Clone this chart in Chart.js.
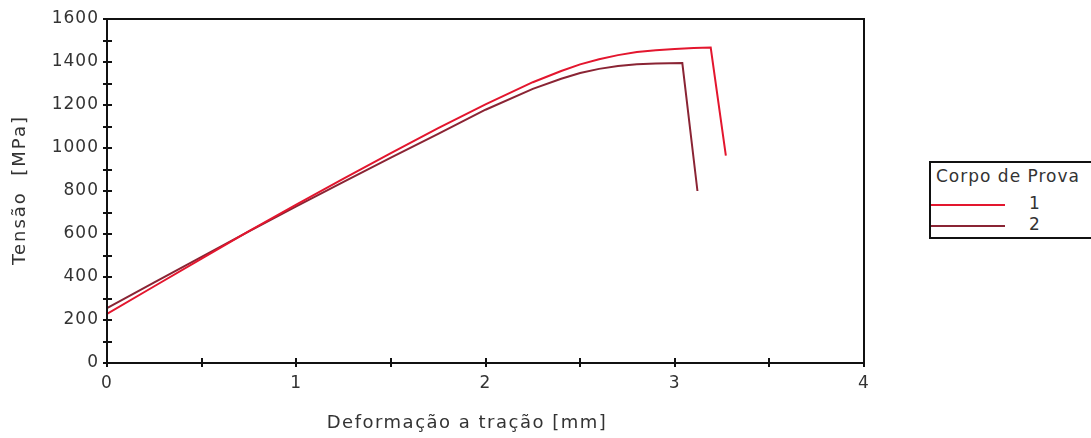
<!DOCTYPE html>
<html>
<head>
<meta charset="utf-8">
<script src="https://cdn.jsdelivr.net/npm/chart.js@4.4.1/dist/chart.umd.min.js"></script>
<style>
  html, body { margin: 0; padding: 0; background: #fff; overflow: hidden; }
  #wrap { position: relative; width: 1091px; height: 438px; }
  #legend { position: absolute; left: 929px; top: 161px; width: 190px; height: 74px;
    border: 2px solid #111; font-family: "DejaVu Sans", Verdana, sans-serif; color: #333; background: #fff; }
  #legend .title { position: absolute; left: 5px; top: 3px; font-size: 17px; letter-spacing: 1px; white-space: nowrap; }
  #legend .row { position: absolute; left: 0; height: 16px; width: 200px; }
  #legend .ln { position: absolute; left: 0; top: 7px; width: 74px; height: 2px; }
  #legend .lb { position: absolute; left: 98px; top: -4px; font-size: 17px; }
</style>
</head>
<body>
<div id="wrap">
  <canvas id="c" width="1091" height="438"></canvas>
  <div id="legend"></div>
</div>
<script>
const legendTitle = "Corpo de Prova";
const seriesNames = ["1", "2"];
const seriesColors = ["#e3162e", "#8a2434"];

const x1 = [0, 0.25, 0.5, 0.75, 1.0, 1.25, 1.5, 1.75, 2.0, 2.25, 2.4, 2.5, 2.6, 2.7, 2.8, 2.9, 3.0, 3.1, 3.19, 3.27];
const y1 = [228, 357, 485, 613, 737, 858, 976, 1092, 1203, 1306, 1358, 1389, 1413, 1432, 1446, 1455, 1461, 1465, 1467, 965];

const x2 = [0, 0.25, 0.5, 0.75, 1.0, 1.25, 1.5, 1.75, 2.0, 2.25, 2.4, 2.5, 2.6, 2.7, 2.8, 2.9, 3.04, 3.12];
const y2 = [255, 375, 494, 612, 728, 842, 955, 1066, 1178, 1275, 1322, 1349, 1368, 1381, 1389, 1393, 1395, 800];

const xTitle = "Deformação a tração [mm]";
const yTitle = "Tensão  [MPa]";
const xMin = 0, xMax = 4, xStep = 0.5;
const yMin = 0, yMax = 1600, yStep = 100;

const FONT = "'DejaVu Sans', Verdana, sans-serif";

// legend (HTML text)
const lg = document.getElementById('legend');
const t = document.createElement('div'); t.className = 'title'; t.textContent = legendTitle; lg.appendChild(t);
seriesNames.forEach((n, i) => {
  const r = document.createElement('div'); r.className = 'row'; r.style.top = (34 + i * 21) + 'px';
  const l = document.createElement('div'); l.className = 'ln'; l.style.background = seriesColors[i];
  const b = document.createElement('div'); b.className = 'lb'; b.textContent = n;
  r.appendChild(l); r.appendChild(b); lg.appendChild(r);
});

const spacing = {
  id: 'spacing',
  beforeLayout(chart) { chart.ctx.letterSpacing = '1px'; },
  beforeDraw(chart) { chart.ctx.letterSpacing = '1px'; }
};

const frame = {
  id: 'frame',
  afterDraw(chart) {
    const { ctx, chartArea: a, scales } = chart;
    ctx.save();
    ctx.strokeStyle = '#111';
    ctx.lineWidth = 2;
    ctx.strokeRect(a.left, a.top, a.right - a.left, a.bottom - a.top);
    ctx.beginPath();
    scales.y.ticks.forEach(tk => {
      const p = Math.round(scales.y.getPixelForValue(tk.value));
      ctx.moveTo(a.left - 4, p); ctx.lineTo(a.left + 5, p);
    });
    scales.x.ticks.forEach(tk => {
      const p = Math.round(scales.x.getPixelForValue(tk.value));
      ctx.moveTo(p, a.bottom - 5); ctx.lineTo(p, a.bottom + 4);
    });
    ctx.stroke();
    // axis titles
    ctx.fillStyle = '#333';
    ctx.textAlign = 'center';
    ctx.textBaseline = 'middle';
    ctx.letterSpacing = '1.5px';
    ctx.font = "18px " + FONT;
    ctx.fillText(xTitle, 467, 423);
    ctx.letterSpacing = '2px';
    ctx.translate(20, 190);
    ctx.rotate(-Math.PI / 2);
    ctx.fillText(yTitle, 0, 0);
    ctx.restore();
  }
};

new Chart(document.getElementById('c'), {
  type: 'line',
  data: {
    datasets: [
      { label: seriesNames[0], data: x1.map((x, i) => ({ x, y: y1[i] })), borderColor: seriesColors[0], borderWidth: 2, pointRadius: 0, tension: 0, fill: false },
      { label: seriesNames[1], data: x2.map((x, i) => ({ x, y: y2[i] })), borderColor: seriesColors[1], borderWidth: 2, pointRadius: 0, tension: 0, fill: false }
    ]
  },
  options: {
    responsive: false,
    animation: false,
    events: [],
    layout: { padding: { left: 8, right: 227, top: 19, bottom: 0 } },
    plugins: { legend: { display: false }, tooltip: { enabled: false } },
    scales: {
      x: {
        type: 'linear', min: xMin, max: xMax,
        ticks: { stepSize: xStep, color: '#333', font: { family: FONT, size: 17 }, padding: 10,
          callback: v => (Math.abs(v - Math.round(v)) < 1e-6 ? String(Math.round(v)) : ''), maxRotation: 0, autoSkip: false },
        grid: { display: false, drawTicks: false },
        border: { display: false },
        title: { display: false },
        afterFit: s => { s.height = 75; }
      },
      y: {
        type: 'linear', min: yMin, max: yMax,
        ticks: { stepSize: yStep, color: '#333', font: { family: FONT, size: 17 }, padding: 8,
          callback: v => (v % 200 === 0 ? String(v) : ''), autoSkip: false },
        grid: { display: false, drawTicks: false },
        border: { display: false },
        title: { display: false },
        afterFit: s => { s.width = 99; }
      }
    }
  },
  plugins: [spacing, frame]
});
</script>
</body>
</html>
